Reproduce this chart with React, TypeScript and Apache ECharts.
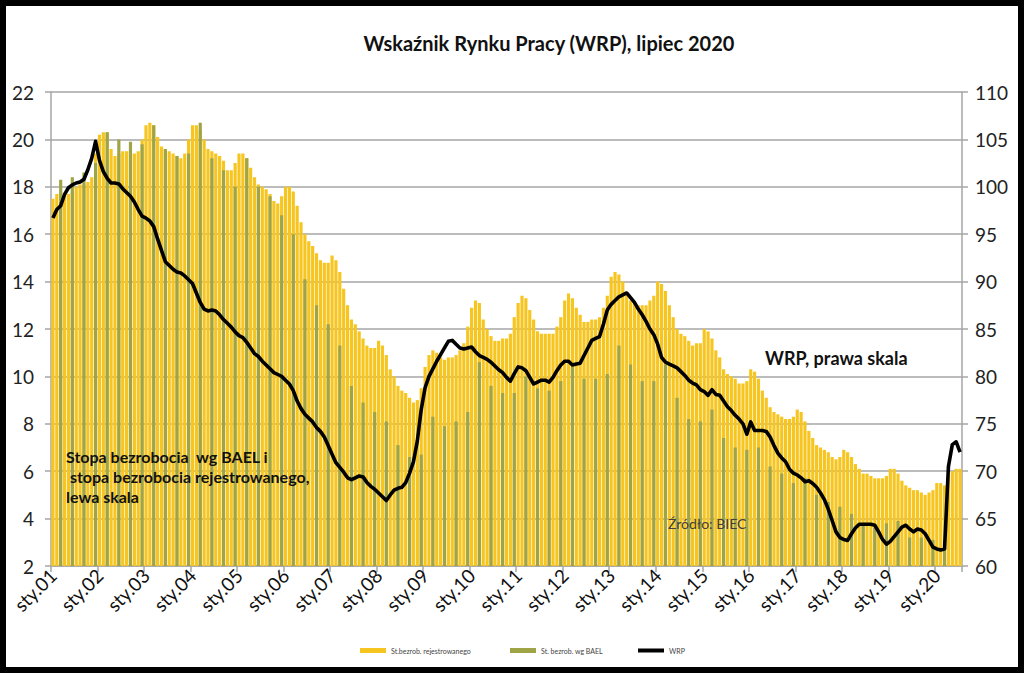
import React, { useEffect, useRef } from 'react';
import * as echarts from 'echarts';

const years = ['01','02','03','04','05','06','07','08','09','10','11','12','13','14','15','16','17','18','19','20'];
const monthNames = ['sty','lut','mar','kwi','maj','cze','lip','sie','wrz','paź','lis','gru'];
const categories = years.flatMap((y) => monthNames.map((m) => `${m}.${y}`)).slice(0, 235);

const leftTicks = { min: 2, max: 22, interval: 2 };
const rightTicks = { min: 60, max: 110, interval: 5 };

// Stopa bezrobocia rejestrowanego, monthly 2001-01 .. 2020-07
const registered = [
  17.5, 17.7, 17.8, 17.7, 17.7, 17.8, 18.0, 18.1, 18.1, 18.2, 18.4, 19.4,
  20.2, 20.3, 20.3, 19.6, 19.3, 19.4, 19.5, 19.5, 19.5, 19.4, 19.5, 20.0,
  20.6, 20.7, 20.6, 20.1, 19.7, 19.6, 19.5, 19.4, 19.3, 19.2, 19.4, 20.0,
  20.6, 20.6, 20.4, 20.0, 19.6, 19.5, 19.4, 19.3, 19.1, 18.7, 18.7, 19.0,
  19.4, 19.4, 19.2, 18.8, 18.4, 18.1, 18.0, 17.9, 17.7, 17.4, 17.3, 17.6,
  18.0, 18.0, 17.8, 17.2, 16.5, 16.0, 15.7, 15.5, 15.2, 14.9, 14.8, 14.8,
  15.1, 14.9, 14.4, 13.7, 13.0, 12.4, 12.2, 11.9, 11.6, 11.3, 11.2, 11.2,
  11.5, 11.3, 10.9, 10.3, 10.0, 9.6, 9.4, 9.3, 9.1, 8.9, 9.0, 9.5,
  10.4, 10.9, 11.1, 11.0, 10.8, 10.7, 10.8, 10.8, 10.9, 11.1, 11.4, 12.1,
  12.9, 13.2, 13.1, 12.4, 12.0, 11.7, 11.5, 11.5, 11.6, 11.6, 11.8, 12.5,
  13.1, 13.4, 13.3, 12.8, 12.4, 11.9, 11.8, 11.8, 11.8, 11.8, 12.1, 12.5,
  13.2, 13.5, 13.3, 12.9, 12.6, 12.3, 12.3, 12.4, 12.4, 12.5, 12.9, 13.4,
  14.2, 14.4, 14.3, 14.0, 13.5, 13.2, 13.1, 13.0, 13.0, 13.0, 13.2, 13.4,
  14.0, 13.9, 13.6, 13.0, 12.5, 12.0, 11.8, 11.7, 11.5, 11.3, 11.4, 11.4,
  12.0, 11.9, 11.6, 11.1, 10.8, 10.3, 10.1, 10.0, 9.9, 9.7, 9.7, 9.8,
  10.3, 10.2, 9.9, 9.4, 9.1, 8.7, 8.5, 8.4, 8.3, 8.2, 8.2, 8.3,
  8.6, 8.5, 8.1, 7.7, 7.4, 7.1, 7.0, 6.9, 6.8, 6.6, 6.5, 6.6,
  6.9, 6.8, 6.6, 6.3, 6.1, 5.9, 5.9, 5.8, 5.7, 5.7, 5.7, 5.8,
  6.1, 6.1, 5.9, 5.6, 5.4, 5.3, 5.2, 5.2, 5.1, 5.0, 5.1, 5.2,
  5.5, 5.5, 5.4, 5.8, 6.0, 6.1, 6.1,
];

// Stopa bezrobocia wg BAEL, quarterly 2001Q1 .. 2020Q1 (shown at the last month of each quarter)
const baelQuarterly = [
  18.3, 18.4, 18.6, 19.0,
  20.3, 20.0, 19.9, 19.8,
  20.6, 19.6, 19.3, 19.4,
  20.7, 19.2, 18.7, 18.0,
  19.2, 18.0, 17.6, 16.8,
  16.0, 14.1, 13.0, 12.2,
  11.3, 9.6, 8.9, 8.5,
  8.1, 7.1, 6.6, 6.7,
  8.3, 7.9, 8.1, 8.5,
  10.6, 9.6, 9.3, 9.3,
  10.0, 9.5, 9.4, 9.8,
  10.4, 9.9, 9.9, 10.1,
  11.3, 10.5, 9.8, 9.8,
  10.5, 9.1, 8.2, 8.1,
  8.6, 7.4, 7.0, 6.9,
  7.0, 6.2, 5.9, 5.5,
  5.7, 5.0, 4.7, 4.5,
  4.2, 3.7, 3.6, 3.8,
  3.9, 3.2, 3.2, 3.1,
  3.1,
];

// Wskaźnik Rynku Pracy, monthly 2001-01 .. 2020-07
const wrp = [
  96.7, 97.6, 98.0, 99.2, 99.9, 100.2, 100.4, 100.5, 100.8, 101.8, 103.0, 104.8,
  102.8, 101.6, 100.9, 100.4, 100.4, 100.3, 99.8, 99.4, 99.0, 98.4, 97.6, 96.9,
  96.7, 96.4, 95.8, 94.5, 93.3, 92.1, 91.7, 91.3, 91.0, 90.9, 90.6, 90.2,
  89.8, 88.8, 87.8, 87.1, 86.9, 87.0, 86.9, 86.5, 86.0, 85.6, 85.2, 84.7,
  84.3, 84.1, 83.6, 83.0, 82.4, 82.1, 81.6, 81.2, 80.8, 80.4, 80.2, 80.0,
  79.6, 79.2, 78.5, 77.4, 76.6, 76.0, 75.6, 75.2, 74.6, 74.2, 73.6, 72.7,
  71.8, 70.9, 70.4, 69.9, 69.3, 69.1, 69.3, 69.5, 69.4, 68.8, 68.4, 68.1,
  67.7, 67.3, 66.9, 67.5, 68.0, 68.2, 68.3, 68.8, 69.8, 71.0, 73.2, 76.5,
  78.8, 80.0, 80.8, 81.6, 82.3, 83.0, 83.7, 83.8, 83.4, 83.0, 82.9, 83.0,
  83.1, 82.6, 82.2, 82.0, 81.8, 81.5, 81.1, 80.7, 80.4, 79.9, 79.5, 80.3,
  81.0, 80.9, 80.6, 79.9, 79.2, 79.4, 79.6, 79.6, 79.4, 79.9, 80.6, 81.2,
  81.6, 81.6, 81.2, 81.3, 81.4, 82.2, 83.0, 83.8, 84.0, 84.2, 85.5, 87.0,
  87.6, 88.0, 88.4, 88.6, 88.8, 88.3, 87.8, 87.1, 86.5, 85.8, 85.0, 84.4,
  83.4, 82.0, 81.5, 81.3, 81.1, 80.9, 80.5, 80.1, 79.6, 79.3, 79.1, 78.6,
  78.4, 78.0, 78.6, 78.1, 78.0, 77.4, 76.8, 76.4, 75.9, 75.5, 75.0, 73.9,
  75.2, 74.3, 74.3, 74.3, 74.2, 73.6, 72.7, 71.9, 71.4, 71.0, 70.2, 69.8,
  69.6, 69.3, 68.9, 69.0, 68.7, 68.3, 67.7, 67.0, 66.0, 64.8, 63.6, 63.0,
  62.8, 62.7, 63.4, 64.0, 64.4, 64.4, 64.4, 64.4, 64.3, 63.6, 62.8, 62.3,
  62.6, 63.1, 63.6, 64.1, 64.3, 63.9, 63.6, 63.9, 63.8, 63.4, 62.7, 62.0,
  61.8, 61.7, 61.8, 70.5, 72.8, 73.1, 72.0,
];

const seriesNames = ['St.bezrob. rejestrowanego', 'St. bezrob. wg BAEL', 'WRP'];
const seriesColors = ['#F7C520', '#9FA447', '#000000'];
const titleText = 'Wskaźnik Rynku Pracy (WRP), lipiec 2020';
const leftNoteLines = ['Stopa bezrobocia  wg BAEL i', ' stopa bezrobocia rejestrowanego,', 'lewa skala'];
const rightNote = 'WRP, prawa skala';
const sourceNote = 'Źródło: BIEC';

const baelMonthly: (number | null)[] = categories.map(() => null);
baelQuarterly.forEach((v, q) => {
  const idx = q * 3 + 2;
  if (idx < baelMonthly.length) baelMonthly[idx] = v;
});

const FONT = 'Lato, "Open Sans", "DejaVu Sans", sans-serif';
const GRID_COLOR = '#a6a6a6';
const legendLefts = [355, 505, 633];

const leftNoteGraphics = leftNoteLines.map((t, i) => ({
  type: 'text',
  x: 66,
  y: 448 + i * 20,
  z: 10,
  style: {
    text: t,
    fill: '#111',
    fontSize: 16,
    fontWeight: 'bold',
    fontFamily: FONT,
    textAlign: 'left',
    textVerticalAlign: 'top',
  },
}));

const option: any = {
  animation: false,
  backgroundColor: '#ffffff',
  textStyle: { fontFamily: FONT },
  grid: { left: 51, right: 62, top: 92, bottom: 107, containLabel: false },
  legend: seriesNames.map((name, i) => ({
    left: legendLefts[i],
    top: 642,
    itemWidth: 26,
    itemHeight: i === 2 ? 4 : 5,
    itemGap: 4,
    textStyle: { fontSize: 7, color: '#444', fontFamily: FONT },
    data: [{ name, icon: 'rect', itemStyle: { color: seriesColors[i] } }],
  })),
  xAxis: {
    type: 'category',
    data: categories,
    boundaryGap: true,
    axisLine: { show: true, lineStyle: { color: GRID_COLOR, width: 1.5 } },
    axisTick: { show: true, interval: 11, length: 6, lineStyle: { color: GRID_COLOR, width: 1.5 } },
    axisLabel: { interval: 11, rotate: 45, fontSize: 19, color: '#111', margin: 6, fontFamily: FONT },
    splitLine: { show: false },
  },
  yAxis: [
    {
      type: 'value',
      position: 'left',
      min: leftTicks.min,
      max: leftTicks.max,
      interval: leftTicks.interval,
      axisLine: { show: true, lineStyle: { color: GRID_COLOR, width: 1.5 } },
      axisTick: { show: true, length: 6, lineStyle: { color: GRID_COLOR, width: 1.5 } },
      axisLabel: { fontSize: 19, color: '#222', margin: 17, fontFamily: FONT },
      splitLine: { show: true, lineStyle: { color: GRID_COLOR, width: 1.5 } },
    },
    {
      type: 'value',
      position: 'right',
      min: rightTicks.min,
      max: rightTicks.max,
      interval: rightTicks.interval,
      axisLine: { show: true, lineStyle: { color: GRID_COLOR, width: 1.5 } },
      axisTick: { show: true, length: 6, lineStyle: { color: GRID_COLOR, width: 1.5 } },
      axisLabel: { fontSize: 19, color: '#222', margin: 13, fontFamily: FONT },
      splitLine: { show: false },
    },
  ],
  series: [
    {
      name: seriesNames[0],
      type: 'bar',
      data: registered,
      itemStyle: { color: seriesColors[0] },
      barCategoryGap: '18%',
      barGap: '-100%',
    },
    {
      name: seriesNames[1],
      type: 'bar',
      data: baelMonthly,
      itemStyle: { color: seriesColors[1] },
      barCategoryGap: '18%',
      barGap: '-100%',
    },
    {
      name: seriesNames[2],
      type: 'line',
      yAxisIndex: 1,
      data: wrp,
      symbol: 'none',
      showSymbol: false,
      lineStyle: { color: '#000', width: 3.6, join: 'round' },
      itemStyle: { color: '#000' },
      z: 5,
    },
  ],
  graphic: [
    {
      type: 'text',
      x: 549,
      y: 43,
      style: {
        text: titleText,
        fill: '#111',
        fontSize: 20,
        fontWeight: 'bold',
        fontFamily: FONT,
        textAlign: 'center',
        textVerticalAlign: 'middle',
      },
    },
    ...leftNoteGraphics,
    {
      type: 'text',
      x: 765,
      y: 358,
      z: 10,
      style: {
        text: rightNote,
        fill: '#111',
        fontSize: 18,
        fontWeight: 'bold',
        fontFamily: FONT,
        textAlign: 'left',
        textVerticalAlign: 'middle',
      },
    },
    {
      type: 'text',
      x: 668,
      y: 523,
      z: 10,
      style: {
        text: sourceNote,
        fill: '#404040',
        fontSize: 14,
        fontFamily: FONT,
        textAlign: 'left',
        textVerticalAlign: 'middle',
      },
    },
  ],
};

const App = () => {
  const ref = useRef<HTMLDivElement>(null);
  useEffect(() => {
    if (!ref.current) return;
    const chart = echarts.init(ref.current, null, { renderer: 'svg' });
    chart.setOption(option);
    return () => chart.dispose();
  }, []);
  return (
    <div style={{ position: 'absolute', left: 0, top: 0, width: 1024, height: 673, background: '#fff' }}>
      <div ref={ref} style={{ position: 'absolute', left: 0, top: 0, width: 1024, height: 673 }} />
      <div
        style={{
          position: 'absolute',
          left: 0,
          top: 0,
          width: 1024,
          height: 673,
          boxSizing: 'border-box',
          border: '6px solid #000',
          pointerEvents: 'none',
        }}
      />
    </div>
  );
};

export default App;
